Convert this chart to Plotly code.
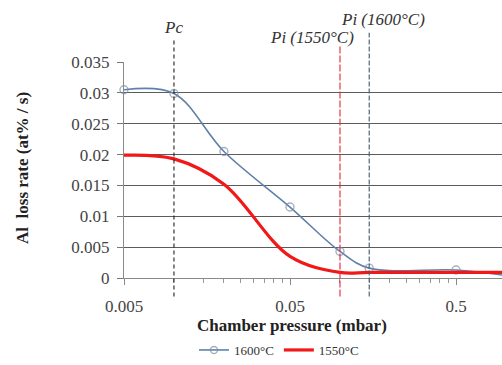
import plotly.graph_objects as go

# Chamber pressure (mbar) and Al loss rate (at% / s)
pressure = [0.005, 0.01, 0.02, 0.05, 0.1, 0.15, 0.5, 1.0]
rate_1600 = [0.0305, 0.0299, 0.0205, 0.0115, 0.0043, 0.0016, 0.0013, 0.0004]
rate_1550 = [0.0199, 0.0193, 0.0152, 0.0035, 0.0009, 0.0009, 0.0009, 0.0009]

# Characteristic pressures
p_c = 0.01
p_i_1550 = 0.1
p_i_1600 = 0.15

y_ticks = [0, 0.005, 0.01, 0.015, 0.02, 0.025, 0.03, 0.035]
y_labels = ["0", "0.005", "0.01", "0.015", "0.02", "0.025", "0.03", "0.035"]
x_ticks = [0.005, 0.05, 0.5]
x_labels = ["0.005", "0.05", "0.5"]
x_minor = [0.005 * k for k in range(2, 10)] + [0.05 * k for k in range(2, 10)] + [0.5]

SERIF = "Liberation Serif, Times New Roman, serif"

fig = go.Figure()
fig.add_trace(go.Scatter(
    x=pressure, y=rate_1600, name="1600°C", mode="lines+markers",
    line=dict(color="#5f80a8", width=1.6, shape="spline", smoothing=1.0),
    marker=dict(symbol="circle-open", size=[8] * (len(pressure) - 1) + [0],
                color="#7d8ea6", line=dict(width=1.4)),
    cliponaxis=False,
))
fig.add_trace(go.Scatter(
    x=pressure, y=rate_1550, name="1550°C", mode="lines",
    line=dict(color="#f01818", width=3.2, shape="spline", smoothing=1.0),
))

# Vertical reference lines at the characteristic pressures
vlines = [
    (p_c, 1.108, "#222222", "4px,3px"),
    (p_i_1550, 1.08, "#e02838", "7px,2px"),
    (p_i_1600, 1.135, "#3f5a66", "5px,2px"),
]
for xv, ytop, col, dash in vlines:
    fig.add_shape(type="line", xref="x", yref="paper",
                  x0=xv, x1=xv, y0=-0.086, y1=ytop,
                  line=dict(color=col, width=1.1, dash=dash))

ann_font = dict(family=SERIF, size=17, color="#333333")
fig.add_annotation(x=-2.0, y=1.162, xref="x", yref="paper", xanchor="center", yanchor="middle",
                   text="<i>Pc</i>", showarrow=False, font=ann_font)
fig.add_annotation(x=-1.17, y=1.113, xref="x", yref="paper", xanchor="center", yanchor="middle",
                   text="<i>Pi (1550°C)</i>", showarrow=False, font=ann_font)
fig.add_annotation(x=-0.74, y=1.196, xref="x", yref="paper", xanchor="center", yanchor="middle",
                   text="<i>Pi (1600°C)</i>", showarrow=False, font=ann_font)

# Axis titles
fig.add_annotation(x=0.444, y=-0.222, xref="paper", yref="paper",
                   xanchor="center", yanchor="middle",
                   text="<b>Chamber pressure (mbar)</b>", showarrow=False,
                   font=dict(family=SERIF, size=17, color="#222222"))
fig.add_annotation(x=-0.267, y=0.51, xref="paper", yref="paper", textangle=-90,
                   xanchor="center", yanchor="middle",
                   text="<b>Al  loss rate (at% / s)</b>", showarrow=False,
                   font=dict(family=SERIF, size=17, color="#222222"))

fig.update_layout(
    width=502, height=365,
    margin=dict(l=124, r=0, t=62, b=81),
    paper_bgcolor="white", plot_bgcolor="white",
    showlegend=True,
    legend=dict(orientation="h", x=0.41, y=-0.335, xanchor="center", yanchor="middle",
                font=dict(family=SERIF, size=13, color="#333333"),
                itemwidth=30, tracegroupgap=0, bgcolor="rgba(0,0,0,0)"),
    xaxis=dict(
        type="log", range=[-2.30103, -0.024],
        tickvals=x_ticks, ticktext=x_labels,
        ticks="outside", ticklen=6, tickcolor="#888888", tickwidth=1,
        ticklabelstandoff=6,
        minor=dict(tickmode="array", tickvals=x_minor, ticks="outside",
                   ticklen=4, tickcolor="#999999", showgrid=False),
        showgrid=False, showline=True, linecolor="#8a8a8a", linewidth=1.2,
        zeroline=False,
        tickfont=dict(family=SERIF, size=17, color="#444444"),
    ),
    yaxis=dict(
        range=[0, 0.035], tickvals=y_ticks, ticktext=y_labels,
        ticks="outside", ticklen=6, tickcolor="#777777",
        ticklabelstandoff=4,
        showgrid=True, gridcolor="#5c5c5c", gridwidth=1.4,
        showline=True, linecolor="#8a8a8a", linewidth=1.2,
        zeroline=False,
        tickfont=dict(family=SERIF, size=17, color="#444444"),
    ),
)

fig.write_html("out.html")
